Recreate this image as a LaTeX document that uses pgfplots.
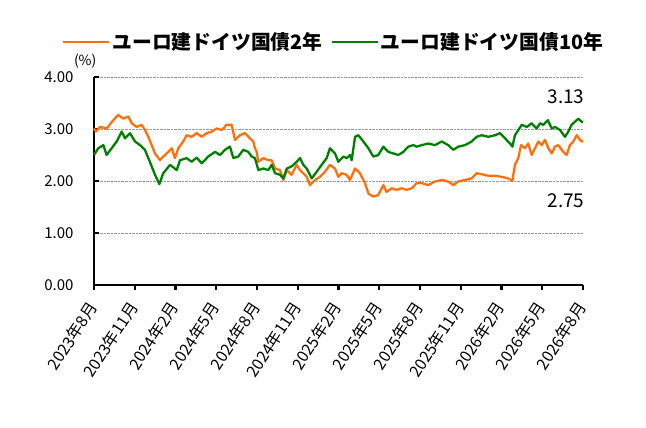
\documentclass[border=0pt]{standalone}
\usepackage{fontspec}
\setmainfont{Noto Sans CJK JP}
\usepackage{pgfplots}
\pgfplotsset{compat=1.18}
\definecolor{jorange}{RGB}{255,112,10}
\definecolor{jgreen}{RGB}{0,128,0}
\begin{document}
\begin{tikzpicture}
\useasboundingbox (0,0) rectangle (646bp,428bp);
\begin{axis}[
  at={(94bp,143bp)}, anchor=south west,
  scale only axis, width=489bp, height=208bp,
  clip=false,
  xmin=0, xmax=36, ymin=0, ymax=4,
  xtick={0,3,...,36},
  xticklabels={2023年8月,2023年11月,2024年2月,2024年5月,2024年8月,2024年11月,2025年2月,2025年5月,2025年8月,2025年11月,2026年2月,2026年5月,2026年8月},
  ytick={0,1,2,3,4},
  /pgf/number format/assume math mode=true,
  yticklabel={\pgfmathprintnumber[fixed,fixed zerofill,precision=2]{\tick}},
  yticklabel style={font=\fontsize{15bp}{18bp}\selectfont, xshift=-17bp},
  xticklabel style={font=\fontsize{16bp}{19bp}\selectfont, yshift=-16bp, xshift=1bp, rotate=57, anchor=east},
  axis x line*=bottom, axis y line*=left,
  axis line style={line width=2.6bp, black, -},
  tick align=inside,
  major tick length=4.5bp,
  tick style={black, line width=2.2bp},
  x tick style={yshift=-4.5bp},
  ymajorgrids, grid style={densely dotted, gray!80, line width=0.8bp},
  legend columns=2,
  legend style={at={(0.49,1.168)}, anchor=center, draw=none, fill=none,
    font=\fontsize{19.8bp}{22bp}\bfseries\selectfont,
    /tikz/every even column/.append style={column sep=6bp}},
  legend image code/.code={\draw[#1] (-2bp,0bp) -- (44bp,0bp);},
]
\addplot[jorange, line width=2.3bp, line join=round] coordinates {
(0,3.01)(0.15,2.95)(0.44,3.04)(0.93,3.01)(1.42,3.17)(1.79,3.27)(2.16,3.20)(2.53,3.24)(2.78,3.11)
(3.14,3.04)(3.51,3.08)(3.75,2.98)(4.00,2.85)(4.25,2.69)(4.49,2.53)(4.86,2.40)(5.10,2.47)
(5.47,2.56)(5.72,2.63)(5.96,2.44)(6.21,2.63)(6.57,2.76)(6.82,2.88)(7.19,2.85)(7.56,2.92)
(7.93,2.85)(8.30,2.92)(8.67,2.95)(9.03,3.01)(9.40,2.98)(9.77,3.08)(10.14,3.08)(10.38,2.79)
(10.75,2.88)(11.12,2.92)(11.48,2.82)(11.73,2.76)(11.85,2.63)(11.98,2.56)(12.10,2.37)
(12.47,2.44)(12.83,2.40)(13.08,2.40)(13.33,2.24)(13.69,2.21)(13.94,2.02)(14.19,2.21)
(14.55,2.12)(14.92,2.31)(15.17,2.21)(15.41,2.15)(15.66,2.08)(15.90,1.92)(16.27,2.02)
(16.64,2.08)(17.01,2.18)(17.37,2.31)(17.74,2.24)(17.99,2.08)(18.24,2.15)(18.60,2.12)
(18.85,2.02)(19.22,2.24)(19.58,2.15)(19.95,1.96)(20.20,1.76)(20.56,1.70)(20.93,1.73)
(21.30,1.92)(21.54,1.79)(21.92,1.86)(22.29,1.83)(22.65,1.86)(23.02,1.83)(23.39,1.86)
(23.76,1.96)(24.12,1.96)(24.61,1.92)(25.10,1.99)(25.60,2.02)(26.08,1.99)(26.45,1.92)
(26.82,1.99)(27.31,2.02)(27.81,2.05)(28.17,2.15)(28.54,2.13)(29.03,2.10)(29.52,2.10)
(30.02,2.08)(30.50,2.05)(30.80,2.00)(30.99,2.31)(31.24,2.44)(31.44,2.69)(31.73,2.63)
(31.97,2.72)(32.22,2.50)(32.47,2.63)(32.71,2.76)(32.96,2.69)(33.20,2.79)(33.45,2.63)
(33.70,2.53)(33.94,2.66)(34.18,2.69)(34.55,2.56)(34.80,2.50)(35.04,2.69)(35.29,2.76)
(35.54,2.88)(35.78,2.79)(36.00,2.75)
};
\addlegendentry{ユーロ建ドイツ国債2年}
\addplot[jgreen, line width=2.3bp, line join=round] coordinates {
(0,2.50)(0.32,2.63)(0.69,2.69)(0.93,2.50)(1.30,2.63)(1.67,2.76)(2.04,2.95)(2.28,2.82)
(2.65,2.92)(3.02,2.76)(3.39,2.69)(3.75,2.60)(4.00,2.44)(4.25,2.28)(4.49,2.12)(4.81,1.94)
(5.10,2.15)(5.60,2.31)(6.09,2.21)(6.33,2.40)(6.82,2.44)(7.19,2.37)(7.56,2.45)(7.93,2.34)
(8.41,2.47)(8.91,2.56)(9.28,2.50)(9.64,2.60)(10.01,2.66)(10.26,2.44)(10.62,2.47)(10.99,2.60)
(11.36,2.56)(11.61,2.47)(11.85,2.44)(12.10,2.21)(12.47,2.24)(12.83,2.21)(13.08,2.31)
(13.33,2.15)(13.69,2.12)(13.94,2.05)(14.19,2.24)(14.55,2.28)(14.92,2.37)(15.17,2.44)
(15.41,2.31)(15.66,2.24)(16.03,2.05)(16.40,2.18)(16.76,2.31)(17.13,2.44)(17.37,2.63)
(17.74,2.53)(17.99,2.37)(18.36,2.47)(18.60,2.44)(18.85,2.50)(18.97,2.40)(19.22,2.85)
(19.46,2.88)(19.83,2.76)(20.20,2.63)(20.56,2.47)(20.93,2.50)(21.30,2.66)(21.67,2.56)
(22.03,2.53)(22.40,2.50)(22.77,2.56)(23.14,2.66)(23.51,2.69)(23.76,2.66)(24.12,2.69)
(24.61,2.72)(25.10,2.69)(25.60,2.76)(26.08,2.69)(26.45,2.60)(26.82,2.66)(27.31,2.69)
(27.81,2.76)(28.17,2.85)(28.54,2.88)(29.03,2.85)(29.52,2.88)(29.89,2.92)(30.26,2.82)
(30.63,2.72)(30.80,2.66)(30.99,2.88)(31.24,2.98)(31.49,3.08)(31.86,3.04)(32.22,3.11)
(32.59,3.01)(32.84,3.11)(33.08,3.08)(33.41,3.17)(33.70,3.01)(33.94,3.04)(34.31,2.98)
(34.67,2.85)(34.92,2.95)(35.16,3.08)(35.41,3.14)(35.66,3.20)(35.90,3.14)(36.00,3.13)
};
\addlegendentry{ユーロ建ドイツ国債10年}
\node[font=\fontsize{14bp}{16bp}\selectfont] at (rel axis cs:-0.018,1.077) {(\%)};
\node[font=\fontsize{19bp}{22bp}\selectfont] at (axis cs:34.75,3.62) {3.13};
\node[font=\fontsize{19bp}{22bp}\selectfont] at (axis cs:34.75,1.63) {2.75};
\end{axis}
\end{tikzpicture}
\end{document}
